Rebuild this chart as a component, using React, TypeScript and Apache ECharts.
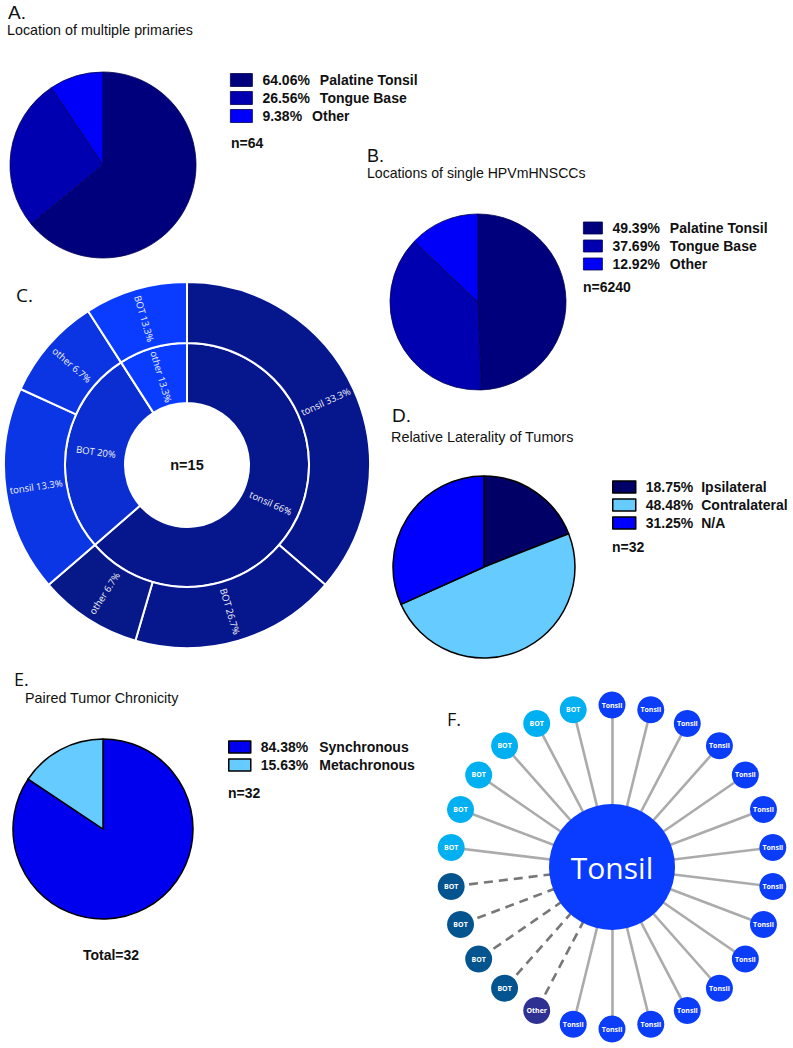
import React, { useEffect, useRef } from 'react';
import * as echarts from 'echarts';

// ---------- Data ----------
const aLabels = ['Palatine Tonsil', 'Tongue Base', 'Other'];
const aValues = [64.06, 26.56, 9.38];
const aColors = ['#00007d', '#0000b0', '#0000fa'];

const bLabels = ['Palatine Tonsil', 'Tongue Base', 'Other'];
const bValues = [49.39, 37.69, 12.92];
const bColors = ['#00007d', '#0000b0', '#0000fa'];

const dLabels = ['Ipsilateral', 'Contralateral', 'N/A'];
const dValues = [18.75, 48.48, 31.25];
const dColors = ['#000066', '#66ccff', '#0000ff'];

const eLabels = ['Synchronous', 'Metachronous'];
const eValues = [84.38, 15.63];
const eColors = ['#0000ee', '#66ccff'];

const cInnerNames = ['tonsil 66%', 'BOT 20%', 'other 13.3%'];
const cInnerColors = ['#06168d', '#0a2ed2', '#0a3cff'];
const cOuterNames = [
  ['tonsil 33.3%', 'BOT 26.7%', 'other 6.7%'],
  ['tonsil 13.3%', 'other 6.7%'],
  ['BOT 13.3%'],
];
const cOuterValues = [[4, 2, 1], [2, 1], [1]];
const cOuterColors = [
  ['#06168d', '#06168d', '#071888'],
  ['#0b36e6', '#0b34e2'],
  ['#0a3cff'],
];

const fCenterName = 'Tonsil';
const fNodeNames = [
  'Tonsil', 'Tonsil', 'Tonsil', 'Tonsil', 'Tonsil', 'Tonsil', 'Tonsil', 'Tonsil',
  'Tonsil', 'Tonsil', 'Tonsil', 'Tonsil', 'Tonsil', 'Tonsil', 'Tonsil',
  'Other', 'BOT', 'BOT', 'BOT', 'BOT', 'BOT', 'BOT', 'BOT', 'BOT', 'BOT', 'BOT',
];
const fNodeKinds = [
  'tonsil', 'tonsil', 'tonsil', 'tonsil', 'tonsil', 'tonsil', 'tonsil', 'tonsil',
  'tonsil', 'tonsil', 'tonsil', 'tonsil', 'tonsil', 'tonsil', 'tonsil',
  'other', 'botDark', 'botDark', 'botDark', 'botDark',
  'botLight', 'botLight', 'botLight', 'botLight', 'botLight', 'botLight',
];
const fKindColors: Record<string, string> = {
  tonsil: '#0b3cf7',
  other: '#2e3192',
  botDark: '#03548f',
  botLight: '#00b0f0',
};
const fDashedKinds = ['other', 'botDark'];

// ---------- helpers ----------
const FONT = '"Liberation Sans", Arial, sans-serif';
const FONT2 = '"Open Sans", sans-serif';

function pieSeries(labels: string[], values: number[], colors: string[], center: number[], radius: number, border: string, bw: number) {
  return {
    type: 'pie',
    center,
    radius,
    startAngle: 90,
    clockwise: true,
    silent: true,
    label: { show: false },
    labelLine: { show: false },
    emphasis: { disabled: true },
    itemStyle: { borderColor: border, borderWidth: bw },
    data: labels.map((l, i) => ({
      name: `${values[i].toFixed(2)}%  ${l}`,
      value: values[i],
      itemStyle: { color: colors[i] },
    })),
  };
}

function legendFor(labels: string[], values: number[], left: number, top: number, w: number, h: number, border: string, bw: number, gap: number) {
  return {
    orient: 'vertical',
    left,
    top,
    padding: 0,
    itemGap: 4,
    itemWidth: w,
    itemHeight: h,
    icon: 'rect',
    selectedMode: false,
    itemStyle: { borderColor: border, borderWidth: bw },
    data: labels.map((l, i) => `${values[i].toFixed(2)}%  ${l}`),
    formatter: (name: string) => {
      const parts = name.split('  ');
      return `{p|${parts[0]}}{l|${parts[1]}}`;
    },
    textStyle: {
      rich: {
        p: { fontFamily: FONT, fontWeight: 'bold', fontSize: 14, color: '#111', padding: [0, 0, 0, 5], lineHeight: 14 },
        l: { fontFamily: FONT, fontWeight: 'bold', fontSize: 14, color: '#111', padding: [0, 0, 0, gap], lineHeight: 14 },
      },
    },
  };
}

function txt(text: string, x: number, y: number, size: number, opts: any = {}) {
  return {
    type: 'text',
    x,
    y,
    silent: true,
    style: {
      text,
      fill: opts.fill || '#111',
      font: `${opts.bold ? 'bold ' : ''}${size}px ${opts.family || FONT}`,
      textAlign: opts.align || 'left',
      textVerticalAlign: 'middle',
    },
  };
}

export default function App() {
  const ref = useRef<HTMLDivElement>(null);

  useEffect(() => {
    if (!ref.current) return;
    const chart = echarts.init(ref.current, null, { renderer: 'svg' });

    // network graph (panel F)
    const R = 162;
    const n = fNodeNames.length;
    const nodes: any[] = [
      {
        id: 'center',
        name: fCenterName,
        x: 0,
        y: 0,
        symbolSize: 126,
        itemStyle: { color: '#0a3cff' },
        label: { fontSize: 30, fontWeight: 'normal', fontFamily: FONT2 },
      },
    ];
    fNodeNames.forEach((nm, i) => {
      const ang = (i * 2 * Math.PI) / n;
      nodes.push({
        id: 'n' + i,
        name: nm,
        x: R * Math.sin(ang),
        y: -R * Math.cos(ang),
        symbolSize: 27,
        itemStyle: { color: fKindColors[fNodeKinds[i]] },
      });
    });
    const edges = fNodeNames.map((_, i) => {
      const dashed = fDashedKinds.includes(fNodeKinds[i]);
      return {
        source: 0,
        target: i + 1,
        lineStyle: dashed
          ? { color: '#777777', width: 2.6, type: [9, 6], opacity: 1 }
          : { color: '#ababab', width: 2.6, type: 'solid', opacity: 1 },
      };
    });
    const sinMax = Math.sin((6 * 2 * Math.PI) / n);
    const graphW = 2 * R * sinMax;

    const option: any = {
      animation: false,
      backgroundColor: '#ffffff',
      legend: [
        legendFor(aLabels, aValues, 230, 73, 22, 13, '#000050', 0.8, 10),
        legendFor(bLabels, bValues, 583, 221, 19, 12, '#000050', 0.8, 10),
        legendFor(dLabels, dValues, 612, 480, 23, 12, '#000000', 1.5, 8),
        legendFor(eLabels, eValues, 228, 740, 22, 12, '#000000', 1.5, 11),
      ],
      series: [
        pieSeries(aLabels, aValues, aColors, [103, 165], 93, '#000050', 0.8),
        pieSeries(bLabels, bValues, bColors, [478, 302], 88, '#000050', 0.8),
        pieSeries(dLabels, dValues, dColors, [484, 567], 91, '#000000', 1.5),
        pieSeries(eLabels, eValues, eColors, [103, 829], 90, '#000000', 1.5),
        {
          type: 'sunburst',
          center: [187, 465],
          radius: [62, 183],
          startAngle: 90,
          clockwise: true,
          silent: true,
          nodeClick: false,
          emphasis: { disabled: true },
          itemStyle: { borderColor: '#ffffff', borderWidth: 2 },
          label: {
            rotate: 'radial',
            color: '#f4f4f4',
            fontSize: 9.5,
            fontFamily: FONT2,
          },
          levels: [
            {},
            { r0: 62, r: 122, label: { rotate: 'radial' } },
            { r0: 122, r: 183, label: { rotate: 'radial' } },
          ],
          data: cInnerNames.map((name, g) => ({
            name,
            itemStyle: { color: cInnerColors[g] },
            children: cOuterNames[g].map((cn, k) => ({
              name: cn,
              value: cOuterValues[g][k],
              itemStyle: { color: cOuterColors[g][k] },
            })),
          })),
        },
        {
          type: 'graph',
          layout: 'none',
          left: 612 - graphW / 2,
          top: 867 - R,
          width: graphW,
          height: 2 * R,
          roam: false,
          silent: true,
          emphasis: { disabled: true },
          label: {
            show: true,
            position: 'inside',
            color: '#ffffff',
            fontSize: 7,
            fontWeight: 'bold',
            fontFamily: FONT2,
            formatter: '{b}',
          },
          data: nodes,
          links: edges,
        },
      ],
      graphic: [
        txt('A.', 8, 12, 19),
        txt('Location of multiple primaries', 7, 30, 14.3),
        txt('n=64', 231, 143, 14, { bold: true }),
        txt('B.', 367, 156, 18),
        txt('Locations of single HPVmHNSCCs', 367, 173, 14.1),
        txt('n=6240', 583, 287, 14, { bold: true }),
        txt('C.', 16, 295, 19, { family: FONT2 }),
        txt('n=15', 187, 465, 14.5, { bold: true, align: 'center' }),
        txt('D.', 392, 415, 19),
        txt('Relative Laterality of Tumors', 391, 437, 14.4),
        txt('n=32', 612, 547, 14, { bold: true }),
        txt('E.', 14, 679, 18, { family: FONT2 }),
        txt('Paired Tumor Chronicity', 25, 698, 14.3),
        txt('n=32', 228, 793, 14, { bold: true }),
        txt('Total=32', 111, 955, 14, { bold: true, align: 'center' }),
        txt('F.', 447, 719, 18, { family: FONT2 }),
      ],
    };
    chart.setOption(option);
    return () => chart.dispose();
  }, []);

  return (
    <div
      ref={ref}
      style={{ position: 'absolute', left: 0, top: 0, width: 793, height: 1048, background: '#fff' }}
    />
  );
}
